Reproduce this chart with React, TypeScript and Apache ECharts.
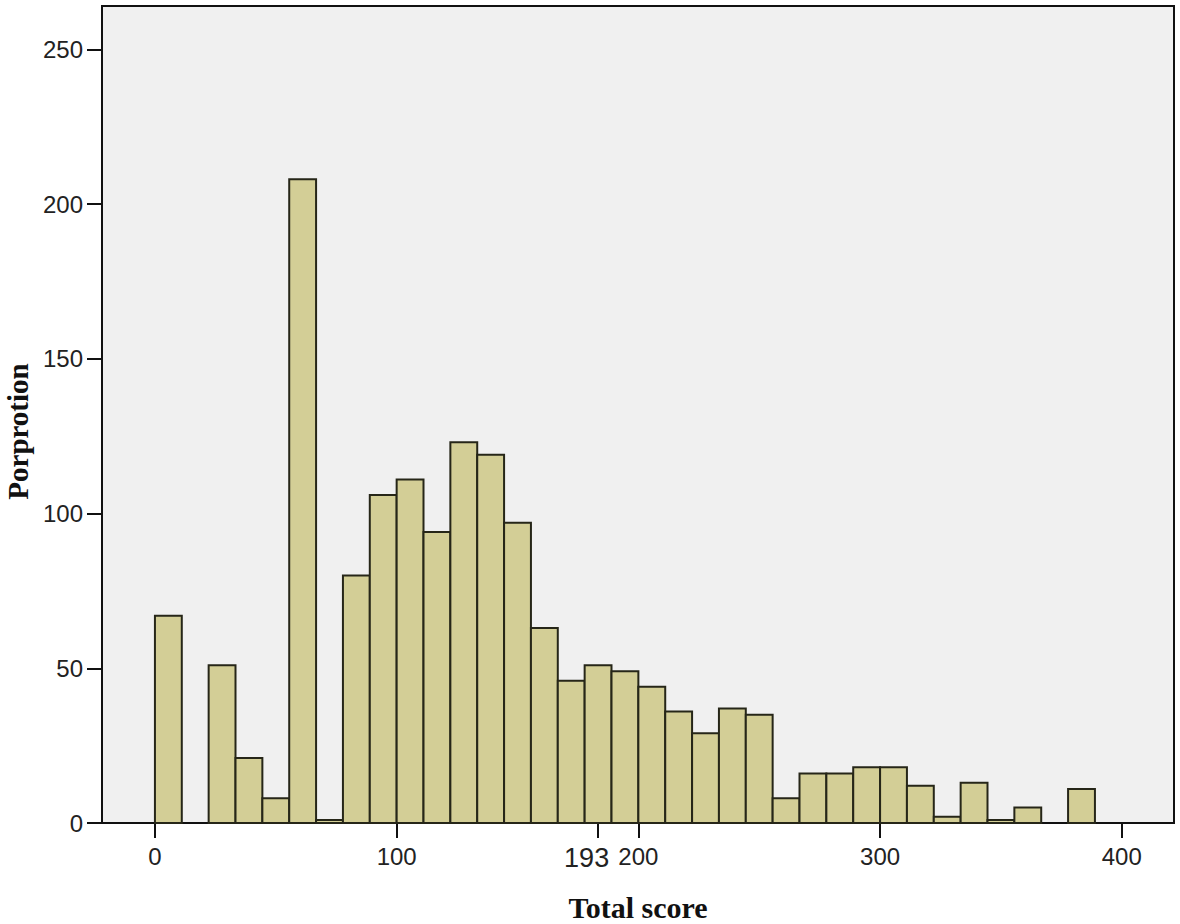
import React, { useEffect, useRef } from "react";
import * as echarts from "echarts";

// Histogram data: 35 bins of equal width starting at 0
const BIN_WIDTH = 100 / 9;
const COUNTS = [
  67, 0, 51, 21, 8, 208, 1, 80, 106, 111, 94, 123, 119, 97, 63, 46, 51, 49, 44,
  36, 29, 37, 35, 8, 16, 16, 18, 18, 12, 2, 13, 1, 5, 0, 11,
];
// x-axis ticks as drawn, their label anchors and label texts
const X_TICK_VALUES = [0, 100, 183.4, 200, 300, 400];
const X_LABEL_VALUES = [0, 100, 178.6, 200, 300, 400];
const X_TICK_LABELS = ["0", "100", "193", "200", "300", "400"];
const Y_TICKS = [0, 50, 100, 150, 200, 250];

const X_TITLE = "Total score";
const Y_TITLE = "Porprotion";

export default function App() {
  const ref = useRef<HTMLDivElement>(null);

  useEffect(() => {
    if (!ref.current) return;
    const chart = echarts.init(ref.current, undefined, { renderer: "svg" });

    const data = COUNTS.map((c, i) => [i * BIN_WIDTH, (i + 1) * BIN_WIDTH, c]).filter(
      (d) => d[2] > 0
    );

    const labelFont = {
      fontFamily: "Liberation Sans, Arial, sans-serif",
      fontSize: 24,
      color: "#222",
    };
    const titleFont = {
      fontFamily: "Liberation Serif, Times New Roman, serif",
      fontSize: 30,
      fontWeight: "bold" as const,
      color: "#111",
    };

    chart.setOption({
      animation: false,
      backgroundColor: "#ffffff",
      grid: {
        left: 102,
        right: 6,
        top: 6,
        bottom: 101,
        outerBoundsMode: "none",
        containLabel: false,
        show: true,
        backgroundColor: "#f0f0f0",
        borderColor: "#111",
        borderWidth: 2,
      },
      xAxis: {
        type: "value",
        min: -21.9,
        max: 421.6,
        name: X_TITLE,
        nameLocation: "middle",
        nameGap: 69,
        nameTextStyle: titleFont,
        splitLine: { show: false },
        axisLine: { show: true, onZero: false, lineStyle: { color: "#111", width: 2 } },
        axisTick: {
          show: true,
          length: 15,
          customValues: X_TICK_VALUES,
          lineStyle: { color: "#111", width: 2 },
        },
        axisLabel: {
          ...labelFont,
          margin: 21,
          customValues: X_LABEL_VALUES,
          formatter: (v: number) => {
            const idx = X_LABEL_VALUES.indexOf(v);
            if (idx < 0) return "";
            return X_TICK_LABELS[idx] === "193"
              ? "{big|" + X_TICK_LABELS[idx] + "}"
              : X_TICK_LABELS[idx];
          },
          rich: {
            big: {
              fontFamily: "Liberation Sans, Arial, sans-serif",
              fontSize: 27,
              color: "#222",
            },
          },
        },
      },
      yAxis: {
        type: "value",
        min: 0,
        max: 264,
        name: Y_TITLE,
        nameLocation: "middle",
        nameGap: 70,
        nameRotate: 90,
        nameTextStyle: { ...titleFont, fontSize: 29, lineHeight: 29, padding: [0, 34, 0, 0] },
        splitLine: { show: false },
        axisLine: { show: true, onZero: false, lineStyle: { color: "#111", width: 2 } },
        axisTick: {
          show: true,
          length: 15,
          customValues: Y_TICKS,
          lineStyle: { color: "#111", width: 2 },
        },
        axisLabel: {
          ...labelFont,
          margin: 19,
          customValues: Y_TICKS,
        },
      },
      series: [
        {
          type: "custom",
          data,
          encode: { x: [0, 1], y: 2 },
          renderItem: (params: any, api: any) => {
            const start = api.value(0);
            const end = api.value(1);
            const count = api.value(2);
            const p0 = api.coord([start, 0]);
            const p1 = api.coord([end, count]);
            return {
              type: "rect",
              shape: {
                x: p0[0],
                y: p1[1],
                width: p1[0] - p0[0],
                height: p0[1] - p1[1],
              },
              style: {
                fill: "#d3ce96",
                stroke: "#262618",
                lineWidth: 2,
              },
            };
          },
        },
      ],
    });

    return () => chart.dispose();
  }, []);

  return (
    <div
      ref={ref}
      style={{ position: "fixed", left: 0, top: 0, width: 1180, height: 924 }}
    />
  );
}
